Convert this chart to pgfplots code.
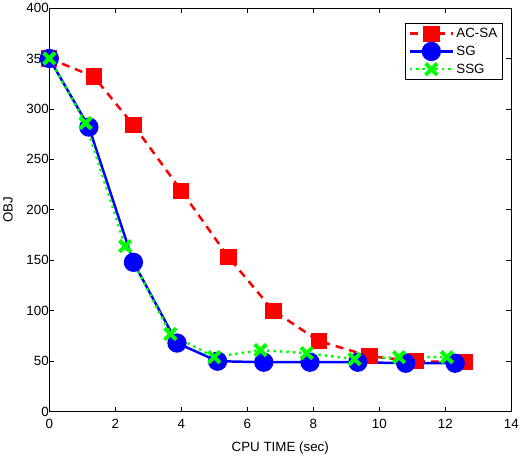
\documentclass[border=0pt]{standalone}
\usepackage{fontspec}
\setmainfont{Liberation Sans}
\usepackage{pgfplots}
\pgfplotsset{compat=1.18}
\pgfdeclareplotmark{fatx}{%
  \pgfsetlinewidth{4pt}%
  \pgfpathmoveto{\pgfqpoint{-\pgfplotmarksize}{-\pgfplotmarksize}}%
  \pgfpathlineto{\pgfqpoint{\pgfplotmarksize}{\pgfplotmarksize}}%
  \pgfpathmoveto{\pgfqpoint{-\pgfplotmarksize}{\pgfplotmarksize}}%
  \pgfpathlineto{\pgfqpoint{\pgfplotmarksize}{-\pgfplotmarksize}}%
  \pgfusepathqstroke
}
\begin{document}
\begin{tikzpicture}
\begin{axis}[
  scale only axis,
  width=467pt, height=408pt,
  xmin=0, xmax=14, ymin=0, ymax=400,
  xtick={0,2,...,14}, ytick={0,50,...,400},
  tick align=inside, tick pos=both,
  major tick length=5pt,
  axis line style={line width=0.8pt},
  tick style={line width=0.8pt, black},
  /pgf/number format/assume math mode=true,
  ticklabel style={font=\fontsize{13.5}{15}\selectfont},
  xticklabel style={yshift=-4pt},
  yticklabel style={xshift=3pt},
  label style={font=\fontsize{13.5}{15}\selectfont},
  xlabel={CPU TIME (sec)},
  ylabel={OBJ},
  xlabel style={yshift=-7pt},
  ylabel style={yshift=7pt},
  legend style={font=\fontsize{13.5}{15}\selectfont, draw=black, line width=0.8pt, inner sep=3pt, at={(0.981,0.963)}, anchor=north east, row sep=2pt},
  legend cell align=left,
  legend image code/.code={
    \draw[mark repeat=2, mark phase=2, #1] plot coordinates {(0pt,0pt) (22pt,0pt) (44pt,0pt)};
  },
]
\addplot[red, line width=2.5pt, dash pattern=on 8pt off 6pt, mark=square*, mark size=7pt, mark options={solid, fill=red}] coordinates {
(0,350) (1.35,332) (2.55,284) (4.0,219) (5.43,153) (6.79,100) (8.17,70) (9.7,55) (11.1,50) (12.6,49)
};
\addlegendentry{AC-SA}
\addplot[blue, line width=2.5pt, mark=*, mark size=8.5pt, mark options={solid, fill=blue}] coordinates {
(0,350) (1.2,282) (2.55,148) (3.87,68) (5.1,50) (6.5,49) (7.9,49) (9.35,49) (10.8,48) (12.3,48)
};
\addlegendentry{SG}
\addplot[green, line width=2.5pt, dash pattern=on 2.5pt off 4pt, mark=fatx, mark size=5.8pt, mark options={solid}] coordinates {
(0,350) (1.1,286) (2.3,164) (3.67,77) (5.0,54) (6.4,61) (7.8,58) (9.25,52) (10.6,54) (12.05,54)
};
\addlegendentry{SSG}
\end{axis}
\end{tikzpicture}
\end{document}
